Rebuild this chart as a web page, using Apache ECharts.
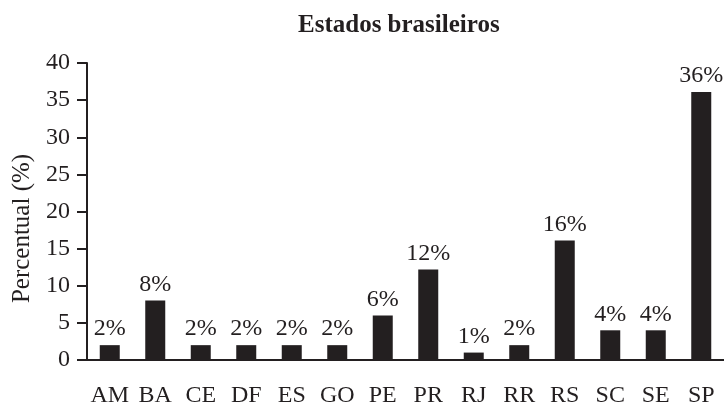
<!doctype html>
<html>
<head>
<meta charset="utf-8">
<title>Estados brasileiros</title>
<script src="https://cdn.jsdelivr.net/npm/echarts@6/dist/echarts.min.js"></script>
<style>
  html, body { margin: 0; padding: 0; background: #fff; }
  #chart { width: 724px; height: 405px; }
</style>
</head>
<body>
<div id="chart"></div>
<script>
// dados
var estados = ['AM', 'BA', 'CE', 'DF', 'ES', 'GO', 'PE', 'PR', 'RJ', 'RR', 'RS', 'SC', 'SE', 'SP'];
var percentual = [2, 8, 2, 2, 2, 2, 6, 12.2, 1, 2, 16.1, 4, 4, 36.1];
var rotulos = ['2%', '8%', '2%', '2%', '2%', '2%', '6%', '12%', '1%', '2%', '16%', '4%', '4%', '36%'];
var yTicks = [0, 40, 5];

var ink = '#231f20';
var serif = '"Liberation Serif", "DejaVu Serif", serif';

var chart = echarts.init(document.getElementById('chart'));
chart.setOption({
  animation: false,
  title: {
    text: 'Estados brasileiros',
    left: 293,
    top: 8,
    textStyle: { fontFamily: serif, fontWeight: 'bold', fontSize: 25, color: ink }
  },
  // sem ajuste automatico de margens (v6)
  grid: { left: 87, right: 0, top: 63, bottom: 45, containLabel: false, outerBoundsMode: 'none' },
  xAxis: {
    type: 'category',
    data: estados,
    axisLine: { lineStyle: { color: ink, width: 2 } },
    axisTick: { length: 9, lineStyle: { color: ink, width: 2 } },
    axisLabel: { margin: 24, fontFamily: serif, fontSize: 24, color: ink, interval: 0 }
  },
  yAxis: {
    type: 'value',
    min: yTicks[0],
    max: yTicks[1],
    interval: yTicks[2],
    name: 'Percentual (%)',
    nameLocation: 'middle',
    nameRotate: 90,
    nameGap: 52,
    nameTextStyle: { fontFamily: serif, fontSize: 25, color: ink, padding: [0, 0, 0, -34] },
    splitLine: { show: false },
    axisLine: { show: true, lineStyle: { color: ink, width: 2 } },
    axisTick: { show: true, inside: false, length: 10, lineStyle: { color: ink, width: 2 } },
    axisLabel: { margin: 17, fontFamily: serif, fontSize: 24, color: ink }
  },
  series: [{
    type: 'bar',
    data: percentual,
    barWidth: 20,
    itemStyle: { color: ink },
    label: {
      show: true,
      position: 'top',
      distance: 4,
      fontFamily: serif,
      fontSize: 24,
      color: ink,
      formatter: function (p) { return rotulos[p.dataIndex]; }
    }
  }]
});
</script>
</body>
</html>
